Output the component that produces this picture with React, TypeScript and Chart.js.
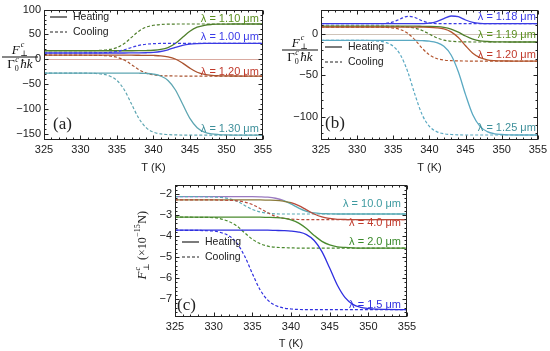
import React, { useEffect, useRef } from 'react';
import { Chart, registerables } from 'chart.js';
Chart.register(...registerables);

const FONT = "'Liberation Sans', Arial, sans-serif";
const SERIF = "'Liberation Serif', 'DejaVu Serif', 'Times New Roman', serif";

// temperature grid (K)
const T = [325, 330, 331, 332, 333, 334, 335, 336, 337, 338, 339, 340, 341, 342, 343, 344, 345, 346, 347, 348, 349, 350, 351, 352, 355];
const xTicks = [325, 330, 335, 340, 345, 350, 355];

// Panel (a)
const a110Cool = [17, 17, 17.1, 17.4, 18, 19.6, 23.4, 31.5, 44, 56.5, 64.6, 68.4, 70, 70.6, 70.9, 71, 71, 71, 71, 71, 71, 71, 71, 71, 71];
const a110Heat = [17, 17, 17, 17, 17, 17, 17, 17, 17, 17.1, 17.4, 18, 19.6, 23.4, 31.5, 44, 56.5, 64.6, 68.4, 70, 70.6, 70.9, 71, 71, 71];
const a100Cool = [12.5, 12.5, 12.6, 12.7, 13, 13.7, 15.5, 19, 23.7, 27.8, 30.2, 31.3, 31.8, 31.9, 32, 32, 32, 32, 32, 32, 32, 32, 32, 32, 32];
const a100Heat = [12.5, 12.5, 12.5, 12.5, 12.5, 12.5, 12.5, 12.5, 12.6, 12.7, 13, 13.7, 15.5, 19, 23.7, 27.8, 30.2, 31.3, 31.8, 31.9, 32, 32, 32, 32, 32];
const a120Cool = [8, 8, 7.9, 7.8, 7.4, 6.4, 3.8, -1.7, -10.9, -21, -28, -31.6, -33.1, -33.7, -33.9, -34, -34, -34, -34, -34, -34, -34, -34, -34, -34];
const a120Heat = [8, 8, 8, 8, 8, 8, 8, 8, 8, 7.9, 7.8, 7.5, 6.8, 4.8, 0.4, -7.9, -18.1, -26.4, -30.8, -32.8, -33.5, -33.8, -33.9, -34, -34];
const a130Cool = [-28, -28, -28.3, -28.8, -30.2, -33.9, -42.9, -61.6, -90.5, -119.4, -138.1, -147.1, -150.8, -152.1, -152.7, -153, -153, -153, -153, -153, -153, -153, -153, -153, -153];
const a130Heat = [-28, -28, -28, -28, -28, -28, -28, -28, -28.1, -28.3, -28.8, -30.2, -33.9, -42.9, -61.6, -90.5, -119.4, -138.1, -147.1, -150.8, -152.1, -152.7, -153, -153, -153];
const yTicksA = [100, 50, 0, -50, -100, -150];

// Panel (b)
const b118Cool = [12, 12, 12, 12, 12, 12.4, 14.2, 17.9, 20.9, 19.5, 15.5, 12.9, 12.1, 12, 12, 12, 12, 12, 12, 12, 12, 12, 12, 12, 12];
const b118Heat = [12, 12, 12, 12, 12, 12, 12, 12, 12, 12, 12.1, 12.6, 14.5, 18.2, 21.3, 20.4, 16.5, 13.5, 12.3, 12, 12, 12, 12, 12, 12];
const b119Cool = [9, 9, 9, 9, 9, 9, 8.9, 8.7, 8.1, 6.7, 3.9, -0.5, -4.9, -7.7, -9.1, -9.7, -9.9, -10, -10, -10, -10, -10, -10, -10, -10];
const b119Heat = [9, 9, 9, 9, 9, 9, 9, 9, 9, 9, 8.9, 8.8, 8.5, 7.6, 5.5, 1.8, -2.8, -6.5, -8.6, -9.4, -9.8, -9.9, -10, -10, -10];
const b120Cool = [8, 8, 8, 8, 7.8, 7.5, 6.8, 4.9, 0.5, -7.5, -17.5, -25.5, -29.9, -31.8, -32.5, -32.8, -32.9, -33, -33, -33, -33, -33, -33, -33, -33];
const b120Heat = [8, 8, 8, 8, 8, 8, 8, 8, 8, 8, 7.9, 7.7, 7.1, 5.7, 2.2, -4.7, -14.5, -23.5, -28.9, -31.4, -32.4, -32.8, -32.9, -33, -33];
const b125Cool = [-8, -8, -8, -8.4, -9, -10.7, -15.2, -25.6, -45.8, -73.4, -97.6, -111.6, -117.9, -120.5, -121.4, -121.8, -122, -122, -122, -122, -122, -122, -122, -122, -122];
const b125Heat = [-8, -8, -8, -8, -8, -8, -8, -8, -8, -8, -8.4, -9, -10.7, -15.2, -25.6, -45.8, -73.4, -97.6, -111.6, -117.9, -120.5, -121.4, -121.8, -122, -122];
const yTicksB = [0, -50, -100];

// Panel (c)
const c100Cool = [-2.12, -2.14, -2.16, -2.22, -2.34, -2.54, -2.73, -2.85, -2.91, -2.94, -2.95, -2.95, -2.95, -2.95, -2.95, -2.95, -2.95, -2.95, -2.95, -2.95, -2.95, -2.95, -2.95, -2.95, -2.95];
const c100Heat = [-2.12, -2.12, -2.12, -2.12, -2.12, -2.12, -2.12, -2.13, -2.15, -2.2, -2.3, -2.47, -2.67, -2.82, -2.9, -2.93, -2.94, -2.95, -2.95, -2.95, -2.95, -2.95, -2.95, -2.95, -2.95];
const c40Cool = [-2.28, -2.28, -2.29, -2.3, -2.32, -2.38, -2.5, -2.69, -2.89, -3.06, -3.15, -3.19, -3.21, -3.22, -3.22, -3.22, -3.22, -3.22, -3.22, -3.22, -3.22, -3.22, -3.22, -3.22, -3.22];
const c40Heat = [-2.28, -2.28, -2.28, -2.28, -2.28, -2.28, -2.28, -2.28, -2.29, -2.3, -2.34, -2.41, -2.55, -2.75, -2.95, -3.09, -3.16, -3.2, -3.21, -3.22, -3.22, -3.22, -3.22, -3.22, -3.22];
const c20Cool = [-3.1, -3.12, -3.19, -3.31, -3.52, -3.84, -4.15, -4.36, -4.48, -4.53, -4.55, -4.56, -4.57, -4.57, -4.57, -4.57, -4.57, -4.57, -4.57, -4.57, -4.57, -4.57, -4.57, -4.57, -4.57];
const c20Heat = [-3.1, -3.1, -3.1, -3.1, -3.1, -3.1, -3.1, -3.1, -3.11, -3.12, -3.15, -3.23, -3.38, -3.64, -3.97, -4.25, -4.42, -4.51, -4.54, -4.56, -4.57, -4.57, -4.57, -4.57, -4.57];
const c15Cool = [-3.72, -3.76, -3.84, -3.99, -4.34, -4.95, -5.78, -6.55, -7.05, -7.3, -7.42, -7.47, -7.49, -7.5, -7.5, -7.5, -7.5, -7.5, -7.5, -7.5, -7.5, -7.5, -7.5, -7.5, -7.5];
const c15Heat = [-3.72, -3.72, -3.72, -3.72, -3.72, -3.72, -3.72, -3.72, -3.72, -3.73, -3.74, -3.76, -3.81, -3.93, -4.21, -4.74, -5.52, -6.34, -6.93, -7.25, -7.39, -7.45, -7.48, -7.49, -7.5];
const yTicksC = [-2, -3, -4, -5, -6, -7];

type Series = { heat: number[]; cool: number[]; color: string; seg?: { until: number; color: string } };
type Lab = { text: string; color: string; y: number };
type PanelDef = {
  left: number; top: number; width: number; height: number;
  yAxisW: number; xAxisH: number; padTop: number; padRight: number;
  yMin: number; yMax: number; yTicks: number[]; yMinor: number; yMajor: number;
  series: Series[]; labels: Lab[]; labelInset: number;
  legendX: number; legendY: number; tag: string; tagX: number; tagY: number;
  yTitle: 'frac' | 'rot'; yTitleX: number; yTitleY: number; zeroLine?: string;
};

const panels: PanelDef[] = [
  {
    left: 0, top: 0, width: 275, height: 175, yAxisW: 44, xAxisH: 35, padTop: 5, padRight: 10,
    yMin: -163, yMax: 100, yTicks: yTicksA, yMinor: 10, yMajor: 50,
    series: [
      { heat: a130Heat, cool: a130Cool, color: '#5ea6b2' },
      { heat: a120Heat, cool: a120Cool, color: '#a9532f' },
      { heat: a100Heat, cool: a100Cool, color: '#3b3be4' },
      { heat: a110Heat, cool: a110Cool, color: '#4f7f2b' },
    ],
    labels: [
      { text: 'λ = 1.10 μm', color: '#5a8f1f', y: 80.5 },
      { text: 'λ = 1.00 μm', color: '#3a3ae8', y: 45.4 },
      { text: 'λ = 1.20 μm', color: '#c0392b', y: -24.8 },
      { text: 'λ = 1.30 μm', color: '#3d8f9a', y: -139.8 },
    ],
    labelInset: 4,
    legendX: 50, legendY: 17, tag: '(a)', tagX: 53, tagY: 125,
    yTitle: 'frac', yTitleX: 20, yTitleY: 57, zeroLine: '#d9aaa0',
  },
  {
    left: 275, top: 0, width: 275, height: 175, yAxisW: 46, xAxisH: 35, padTop: 7, padRight: 11,
    yMin: -128, yMax: 29, yTicks: yTicksB, yMinor: 10, yMajor: 50,
    series: [
      { heat: b125Heat, cool: b125Cool, color: '#5aa9c2' },
      { heat: b120Heat, cool: b120Cool, color: '#b3552e' },
      { heat: b119Heat, cool: b119Cool, color: '#4f7f2b' },
      { heat: b118Heat, cool: b118Cool, color: '#3b3be4' },
    ],
    labels: [
      { text: 'λ = 1.18 μm', color: '#3a3ae8', y: 19.6 },
      { text: 'λ = 1.19 μm', color: '#5a8f1f', y: -1.7 },
      { text: 'λ = 1.20 μm', color: '#c0392b', y: -25.3 },
      { text: 'λ = 1.25 μm', color: '#3d8f9a', y: -113.9 },
    ],
    labelInset: 2,
    legendX: 50, legendY: 47, tag: '(b)', tagX: 50, tagY: 124,
    yTitle: 'frac', yTitleX: 25, yTitleY: 50, zeroLine: '#cfc3b8',
  },
  {
    left: 130, top: 175, width: 290, height: 176, yAxisW: 45, xAxisH: 34, padTop: 8, padRight: 13,
    yMin: -7.85, yMax: -1.55, yTicks: yTicksC, yMinor: 0.2, yMajor: 1,
    series: [
      { heat: c15Heat, cool: c15Cool, color: '#2f2fe0' },
      { heat: c20Heat, cool: c20Cool, color: '#4a8a2e' },
      { heat: c40Heat, cool: c40Cool, color: '#b84a3a', seg: { until: 340, color: '#8a7a3a' } },
      { heat: c100Heat, cool: c100Cool, color: '#5aaab5', seg: { until: 339, color: '#9a7ac0' } },
    ],
    labels: [
      { text: 'λ = 10.0 μm', color: '#3d9aa0', y: -2.49 },
      { text: 'λ = 4.0 μm', color: '#c0392b', y: -3.38 },
      { text: 'λ = 2.0 μm', color: '#3a8a2a', y: -4.28 },
      { text: 'λ = 1.5 μm', color: '#2f2fe0', y: -7.29 },
    ],
    labelInset: 6,
    legendX: 52, legendY: 67, tag: '(c)', tagX: 47, tagY: 131,
    yTitle: 'rot', yTitleX: 13, yTitleY: 70,
  },
];

function fmt(v: number) {
  return v < 0 ? '\u2212' + String(-v) : String(v);
}

function drawFrac(ctx: CanvasRenderingContext2D, cx: number, cy: number) {
  const big = `italic 13px ${SERIF}`;
  const up = `13px ${SERIF}`;
  const sm = `italic 8px ${SERIF}`;
  const smUp = `8px ${SERIF}`;
  ctx.textAlign = 'left';
  ctx.textBaseline = 'alphabetic';
  ctx.fillStyle = '#111';
  ctx.font = big; const wF = ctx.measureText('F').width;
  ctx.font = smUp; const wP = ctx.measureText('\u22A5').width;
  const nw = wF + wP + 1;
  let x = cx - nw / 2;
  const nb = cy - 3;
  ctx.font = big; ctx.fillText('F', x, nb);
  ctx.font = smUp; ctx.fillText('\u22A5', x + wF + 0.5, nb + 2);
  ctx.font = sm; ctx.fillText('c', x + wF + 1, nb - 7);
  ctx.fillRect(cx - 18, cy - 0.5, 36, 1);
  ctx.font = up; const wG = ctx.measureText('\u0393').width;
  ctx.font = smUp; const w0 = ctx.measureText('0').width;
  ctx.font = big; const wH = ctx.measureText('\u0127k').width;
  const dw = wG + w0 + 1.5 + wH;
  x = cx - dw / 2;
  const db = cy + 11;
  ctx.font = up; ctx.fillText('\u0393', x, db);
  ctx.font = smUp; ctx.fillText('0', x + wG, db + 3);
  ctx.font = sm; ctx.fillText('c', x + wG + 0.5, db - 6);
  ctx.font = big; ctx.fillText('\u0127k', x + wG + w0 + 1.5, db);
}

function drawRot(ctx: CanvasRenderingContext2D, cx: number, cy: number) {
  ctx.save();
  ctx.translate(cx, cy);
  ctx.rotate(-Math.PI / 2);
  ctx.fillStyle = '#222';
  ctx.textAlign = 'left';
  ctx.textBaseline = 'middle';
  const parts: { t: string; f: string; dy: number; adv: boolean }[] = [
    { t: 'F', f: `italic 13px ${SERIF}`, dy: 0, adv: true },
    { t: 'c', f: `italic 8px ${SERIF}`, dy: -5, adv: false },
    { t: '\u22A5', f: `8px ${SERIF}`, dy: 4, adv: true },
    { t: ' (\u00D710', f: `12px ${SERIF}`, dy: 0, adv: true },
    { t: '\u221215', f: `8px ${SERIF}`, dy: -5, adv: true },
    { t: 'N)', f: `12px ${SERIF}`, dy: 0, adv: true },
  ];
  let w = 0;
  for (const p of parts) { ctx.font = p.f; if (p.adv) w += ctx.measureText(p.t).width + 0.5; }
  let x = -w / 2;
  for (const p of parts) {
    ctx.font = p.f;
    ctx.fillText(p.t, x + (p.adv ? 0 : 0.5), p.dy);
    if (p.adv) x += ctx.measureText(p.t).width + 0.5;
  }
  ctx.restore();
}

function makePlugin(def: PanelDef) {
  return {
    id: 'deco',
    beforeDatasetsDraw(chart: any) {
      const { ctx, chartArea: ca, scales } = chart;
      if (def.zeroLine) {
        const py = Math.round(scales.y.getPixelForValue(0)) + 0.5;
        ctx.save();
        ctx.strokeStyle = def.zeroLine;
        ctx.lineWidth = 1;
        ctx.beginPath();
        ctx.moveTo(ca.left, py);
        ctx.lineTo(ca.right, py);
        ctx.stroke();
        ctx.restore();
      }
    },
    afterDatasetsDraw(chart: any) {
      const { ctx, chartArea: ca, scales } = chart;
      const xs = scales.x, ys = scales.y;
      ctx.save();
      const L = Math.round(ca.left) + 0.5, R = Math.round(ca.right) - 0.5;
      const Tp = Math.round(ca.top) + 0.5, B = Math.round(ca.bottom) - 0.5;
      ctx.strokeStyle = '#222';
      ctx.lineWidth = 1;
      ctx.strokeRect(L, Tp, R - L, B - Tp);
      ctx.beginPath();
      for (let t = 325; t <= 355; t++) {
        const px = Math.round(xs.getPixelForValue(t)) + 0.5;
        const len = t % 5 === 0 ? 4 : 2;
        ctx.moveTo(px, B); ctx.lineTo(px, B - len);
        ctx.moveTo(px, Tp); ctx.lineTo(px, Tp + len);
      }
      for (let k = Math.ceil(def.yMin / def.yMinor - 1e-9); k * def.yMinor <= def.yMax + 1e-9; k++) {
        const v = k * def.yMinor;
        const py = Math.round(ys.getPixelForValue(v)) + 0.5;
        const r = v / def.yMajor;
        const len = Math.abs(r - Math.round(r)) < 1e-6 ? 4 : 2;
        ctx.moveTo(L, py); ctx.lineTo(L + len, py);
        ctx.moveTo(R, py); ctx.lineTo(R - len, py);
      }
      ctx.stroke();

      ctx.font = `11px ${FONT}`;
      ctx.textAlign = 'right';
      ctx.textBaseline = 'middle';
      for (const lb of def.labels) {
        ctx.fillStyle = lb.color;
        ctx.fillText(lb.text, ca.right - def.labelInset, ys.getPixelForValue(lb.y));
      }

      ctx.strokeStyle = '#222';
      ctx.lineWidth = 1.2;
      ctx.beginPath();
      ctx.moveTo(def.legendX, def.legendY); ctx.lineTo(def.legendX + 17, def.legendY);
      ctx.stroke();
      ctx.setLineDash([3, 2]);
      ctx.beginPath();
      ctx.moveTo(def.legendX, def.legendY + 15); ctx.lineTo(def.legendX + 17, def.legendY + 15);
      ctx.stroke();
      ctx.setLineDash([]);
      ctx.fillStyle = '#222';
      ctx.font = `10.5px ${FONT}`;
      ctx.textAlign = 'left';
      ctx.fillText('Heating', def.legendX + 23, def.legendY);
      ctx.fillText('Cooling', def.legendX + 23, def.legendY + 15);

      ctx.font = `17px ${SERIF}`;
      ctx.fillText(def.tag, def.tagX, def.tagY);

      if (def.yTitle === 'frac') drawFrac(ctx, def.yTitleX, def.yTitleY);
      else drawRot(ctx, def.yTitleX, def.yTitleY);
      ctx.restore();
    },
  };
}

function Panel({ def }: { def: PanelDef }) {
  const ref = useRef<HTMLCanvasElement>(null);
  useEffect(() => {
    const canvas = ref.current;
    if (!canvas) return;
    const datasets: any[] = [];
    for (const s of def.series) {
      datasets.push({
        data: T.map((t, i) => ({ x: t, y: s.cool[i] })),
        borderColor: s.color,
        borderDash: [3, 2],
        borderWidth: 1.2,
        pointRadius: 0,
        cubicInterpolationMode: 'monotone',
        fill: false,
      });
      datasets.push({
        data: T.map((t, i) => ({ x: t, y: s.heat[i] })),
        borderColor: s.color,
        borderWidth: 1.3,
        pointRadius: 0,
        cubicInterpolationMode: 'monotone',
        fill: false,
        segment: s.seg
          ? { borderColor: (c: any) => (c.p1.parsed.x <= s.seg!.until ? s.seg!.color : s.color) }
          : undefined,
      });
    }
    const chart = new Chart(canvas, {
      type: 'line',
      data: { datasets },
      options: {
        animation: false,
        responsive: false,
        maintainAspectRatio: false,
        events: [],
        layout: { padding: { left: 0, top: def.padTop, right: def.padRight, bottom: 0 } },
        plugins: { legend: { display: false }, tooltip: { enabled: false } },
        scales: {
          x: {
            type: 'linear',
            min: 325,
            max: 355,
            afterBuildTicks: (s: any) => { s.ticks = xTicks.map((v) => ({ value: v })); },
            afterFit: (s: any) => { s.height = def.xAxisH; },
            ticks: { font: { family: FONT, size: 11 }, color: '#222', padding: 3, maxRotation: 0, autoSkip: false },
            grid: { display: false, drawTicks: false },
            border: { display: false },
            title: { display: true, text: 'T (K)', font: { family: FONT, size: 11 }, color: '#222', padding: { top: 0, bottom: 0 } },
          },
          y: {
            type: 'linear',
            min: def.yMin,
            max: def.yMax,
            afterBuildTicks: (s: any) => { s.ticks = def.yTicks.map((v) => ({ value: v })); },
            afterFit: (s: any) => { s.width = def.yAxisW; },
            ticks: { font: { family: FONT, size: 11 }, color: '#222', padding: 3, callback: (v: any) => fmt(Number(v)) },
            grid: { display: false, drawTicks: false },
            border: { display: false },
          },
        },
      } as any,
      plugins: [makePlugin(def)],
    });
    return () => chart.destroy();
  }, [def]);
  return (
    <canvas
      ref={ref}
      width={def.width}
      height={def.height}
      style={{ position: 'absolute', left: def.left, top: def.top, width: def.width, height: def.height }}
    />
  );
}

export default function App() {
  return (
    <div style={{ position: 'absolute', left: 0, top: 0, width: 550, height: 351, background: '#fff', overflow: 'hidden' }}>
      {panels.map((p, i) => (
        <Panel key={i} def={p} />
      ))}
    </div>
  );
}
